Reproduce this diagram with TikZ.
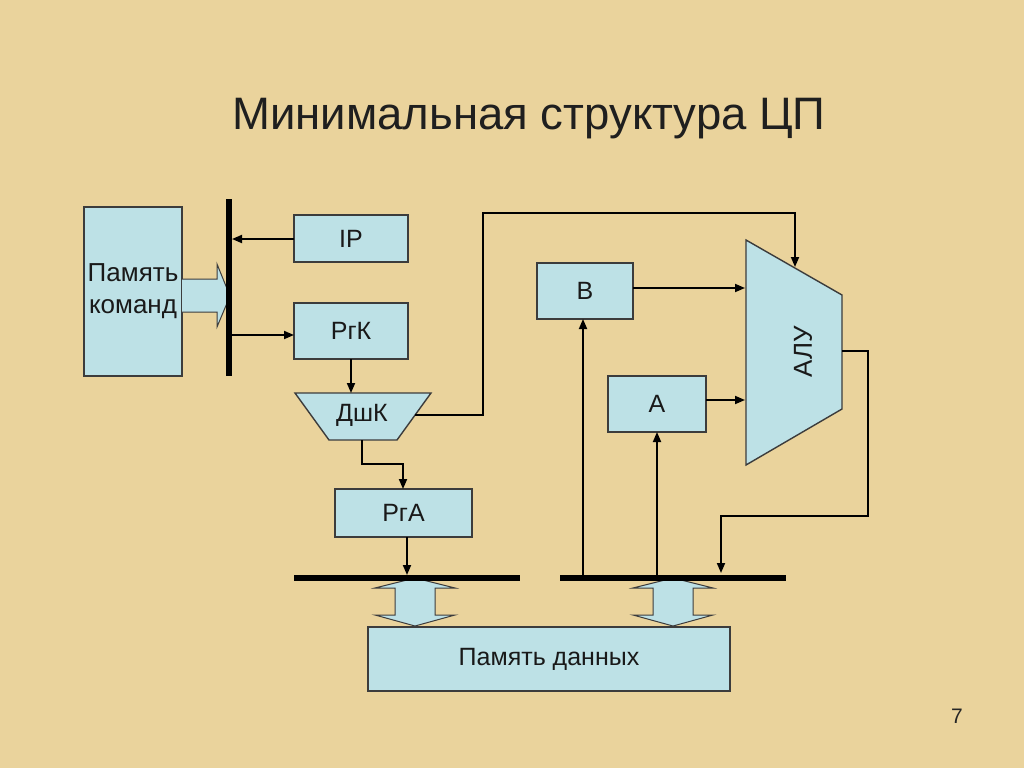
\documentclass[tikz,border=0pt]{standalone}
\usepackage{fontspec}
\setmainfont{Liberation Sans}
\usetikzlibrary{arrows.meta}
\definecolor{bg}{RGB}{234,211,156}
\definecolor{boxfill}{RGB}{189,225,230}
\definecolor{boxline}{RGB}{60,60,60}
\tikzset{
  blk/.style={draw=boxline, fill=boxfill, line width=1.4pt, inner sep=0pt, outer sep=0pt,
    font=\fontsize{25}{29}\selectfont, text=black!90},
  arr/.style={line width=1.8pt, -{Triangle[length=10pt,width=8pt]}},
  bus/.style={line width=6.5pt},
  hollow/.style={draw=boxline, fill=boxfill, line width=1pt, line join=miter},
}
\begin{document}
\begin{tikzpicture}[x=1pt,y=-1pt]
\fill[bg] (0,0) rectangle (1024,768);
\useasboundingbox (0,0) rectangle (1024,768);

\node[font=\fontsize{45.5}{52}\selectfont, text=black!88] (title) at (529,119) {Минимальная структура ЦП};
\node[font=\fontsize{21}{25}\selectfont, text=black!85] (page) at (957,716) {7};

% instruction memory
\node[blk, minimum width=98pt, minimum height=169pt, align=center, font=\fontsize{26}{32}\selectfont] (pk) at (133,291.5) {Память\\команд};
\draw[hollow] (182,279) -- (217,279) -- (217,264) -- (230,296) -- (217,327) -- (217,312) -- (182,312);

% vertical bus
\coordinate (vb1) at (229,199);
\coordinate (vb2) at (229,376);
\draw[bus] (vb1) -- (vb2);

\node[blk, minimum width=114pt, minimum height=47pt] (ip) at (351,238.5) {IP};
\node[blk, minimum width=114pt, minimum height=56pt] (rgk) at (351,331) {РгК};

\coordinate (vbip) at (232,239);
\coordinate (vbrgk) at (232,335);
\draw[arr] (ip.west |- vbip) -- (vbip);
\draw[arr] (vbrgk) -- (rgk.west |- vbrgk);

% decoder
\draw[draw=boxline, fill=boxfill, line width=1.4pt] (295,393) -- (431,393) -- (397,440) -- (329,440) -- cycle;
\node[font=\fontsize{25}{29}\selectfont, text=black!90] (dshk) at (362,415) {ДшК};
\coordinate (dshkT) at (351,393);
\coordinate (dshkB) at (362,440);
\coordinate (dshkR) at (415,415);
\draw[arr] (rgk.south -| dshkT) -- (dshkT);

\node[blk, minimum width=137pt, minimum height=48pt] (rga) at (403.5,513) {РгА};
\draw[arr] (dshkB) -- (362,464) -- (403,464) -- (403,489);

% ALU
\draw[draw=boxline, fill=boxfill, line width=1.4pt] (746,240) -- (842,295) -- (842,409) -- (746,465) -- cycle;
\node[font=\fontsize{26}{30}\selectfont, text=black!90, rotate=90] (alu) at (803,352) {АЛУ};
\coordinate (aluTop) at (795,267);
\coordinate (aluB) at (745,288);
\coordinate (aluA) at (745,400);
\coordinate (aluOut) at (842,351);

\draw[arr] (dshkR) -- (483,415) -- (483,213) -- (795,213) -- (aluTop);

\node[blk, minimum width=96pt, minimum height=56pt] (b) at (585,291) {B};
\node[blk, minimum width=98pt, minimum height=56pt] (a) at (657,404) {A};
\draw[arr] (b.east |- aluB) -- (aluB);
\draw[arr] (a.east |- aluA) -- (aluA);

% data buses
\coordinate (lb1) at (294,578);
\coordinate (lb2) at (520,578);
\coordinate (rb1) at (560,578);
\coordinate (rb2) at (786,578);

\draw[arr] (407,537) -- (407,575);
\draw[arr] (583,578) -- (b.south -| 583,0);
\draw[arr] (657,578) -- (a.south);
\draw[arr] (aluOut) -- (868,351) -- (868,516) -- (721,516) -- (721,573);

% data memory
\node[blk, minimum width=362pt, minimum height=64pt] (pd) at (549,659) {Память данных};

\draw[hollow] (415,578) -- (455,588) -- (435,588) -- (435,615) -- (455,615) -- (415,626) -- (375,615) -- (395,615) -- (395,588) -- (375,588) -- cycle;
\draw[hollow] (673,578) -- (713,588) -- (693,588) -- (693,615) -- (713,615) -- (673,626) -- (633,615) -- (653,615) -- (653,588) -- (633,588) -- cycle;

\draw[bus] (lb1) -- (lb2);
\draw[bus] (rb1) -- (rb2);
\end{tikzpicture}
\end{document}
